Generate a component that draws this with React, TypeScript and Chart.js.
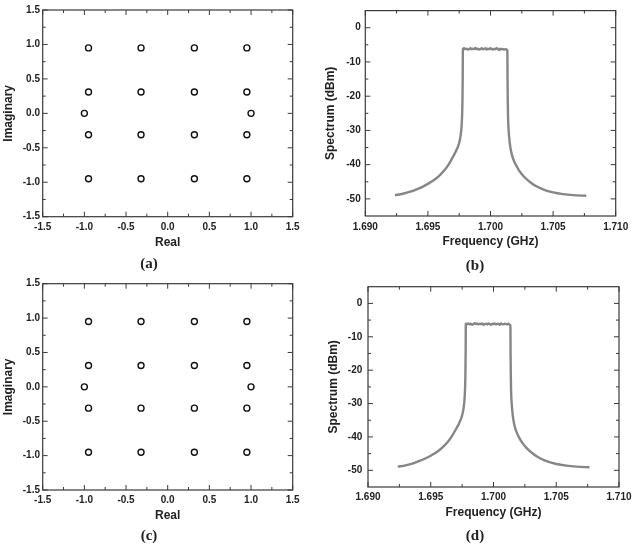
import React, { useEffect, useRef } from "react";
import { Chart, registerables } from "chart.js";
Chart.register(...registerables);

// ---------- Data ----------
const constReal = [-0.95, -0.32, 0.32, 0.95, -0.95, -0.32, 0.32, 0.95, -1.0, 1.0, -0.95, -0.32, 0.32, 0.95, -0.95, -0.32, 0.32, 0.95];
const constImag = [0.95, 0.95, 0.95, 0.95, 0.31, 0.31, 0.31, 0.31, 0.0, 0.0, -0.31, -0.31, -0.31, -0.31, -0.95, -0.95, -0.95, -0.95];

const specFreq = [
  1.69237, 1.693, 1.6936, 1.6941, 1.6946, 1.6951, 1.6956, 1.696, 1.6964, 1.6967, 1.697, 1.6973, 1.6975, 1.69762, 1.69769, 1.69773, 1.69776, 1.69778, 1.69779, 1.6978,
  1.6979, 1.698, 1.6981, 1.6982, 1.6983, 1.6984, 1.6985, 1.6986, 1.6987, 1.6988, 1.6989, 1.699, 1.6991, 1.6992, 1.6993, 1.6994, 1.6995, 1.6996, 1.6997, 1.6998, 1.6999,
  1.7, 1.7001, 1.7002, 1.7003, 1.7004, 1.7005, 1.7006, 1.7007, 1.7008, 1.7009, 1.701, 1.7011, 1.7012, 1.7013, 1.70134,
  1.70135, 1.70136, 1.70138, 1.7014, 1.70144, 1.7015, 1.70158, 1.7017, 1.70185, 1.702, 1.7023, 1.7027, 1.7032, 1.7037, 1.7044, 1.705, 1.7058, 1.7066, 1.70765,
];
const specB = [
  -48.9, -48.5, -47.9, -47.2, -46.4, -45.4, -44.2, -42.9, -41.3, -39.7, -37.7, -35.6, -33.6, -31.3, -28.8, -25.8, -21.5, -14.5, -7.5, -6.2,
  -6.0, -6.3, -6.1, -6.4, -6.2, -6.0, -6.3, -6.1, -6.2, -5.9, -6.3, -6.1, -6.4, -6.2, -6.0, -6.3, -6.2, -6.0, -6.4, -6.1, -6.3,
  -6.0, -6.2, -6.4, -6.1, -6.3, -6.0, -6.2, -6.5, -6.1, -6.3, -6.2, -6.4, -6.3, -6.4, -6.6,
  -7.5, -14.5, -21.5, -26.0, -29.5, -32.3, -34.8, -37.0, -38.7, -39.9, -41.8, -43.6, -45.2, -46.4, -47.5, -48.1, -48.6, -48.9, -49.1,
];
const specD = [
  -48.9, -48.5, -47.9, -47.2, -46.4, -45.4, -44.2, -42.9, -41.3, -39.7, -37.7, -35.6, -33.6, -31.3, -28.8, -25.8, -21.5, -14.5, -7.5, -6.1,
  -6.2, -6.0, -6.3, -6.1, -6.4, -6.2, -5.9, -6.2, -6.0, -6.3, -6.1, -6.2, -6.0, -6.4, -6.2, -6.1, -6.3, -6.0, -6.2, -6.4, -6.1,
  -6.2, -6.0, -6.3, -6.2, -6.1, -6.4, -6.0, -6.2, -6.3, -6.1, -6.2, -6.3, -6.1, -6.4, -6.5,
  -7.5, -14.5, -21.5, -26.0, -29.5, -32.3, -34.8, -37.0, -38.7, -39.9, -41.8, -43.6, -45.2, -46.4, -47.5, -48.1, -48.6, -48.9, -49.1,
];

const constTicks = { min: -1.5, max: 1.5, step: 0.5 };
const specXTicks = { min: 1.69, max: 1.71, step: 0.005 };
const specYTicks = { min: -55, max: 5, step: 10 };
const specYLabels = [-50, -40, -30, -20, -10, 0];

// ---------- Frame / inward ticks plugin ----------
const framePlugin = {
  id: "frame",
  afterDraw(chart: any) {
    const { ctx, chartArea: a, scales } = chart;
    const xs = scales.x;
    const ys = scales.y;
    ctx.save();
    ctx.strokeStyle = "#3a3a3a";
    ctx.lineWidth = 1.2;
    ctx.strokeRect(a.left, a.top, a.right - a.left, a.bottom - a.top);
    ctx.lineWidth = 1;
    const line = (x1: number, y1: number, x2: number, y2: number) => {
      ctx.beginPath();
      ctx.moveTo(x1, y1);
      ctx.lineTo(x2, y2);
      ctx.stroke();
    };
    const withMinors = (scale: any) => {
      const vals = scale.ticks.map((t: any) => t.value);
      const out: { v: number; major: boolean }[] = [];
      vals.forEach((v: number, i: number) => {
        out.push({ v, major: true });
        if (i < vals.length - 1) out.push({ v: (v + vals[i + 1]) / 2, major: false });
      });
      return out;
    };
    withMinors(xs).forEach(({ v, major }) => {
      const p = xs.getPixelForValue(v);
      const len = major ? 5 : 3;
      line(p, a.bottom, p, a.bottom - len);
      line(p, a.top, p, a.top + len);
    });
    withMinors(ys).forEach(({ v, major }) => {
      const p = ys.getPixelForValue(v);
      const len = major ? 5 : 3;
      line(a.left, p, a.left + len, p);
      line(a.right, p, a.right - len, p);
    });
    ctx.restore();
  },
};

const FONT = "'Liberation Sans', Arial, sans-serif";
const tickFont = { family: FONT, weight: "bold" as const, size: 10 };
const titleFont = { family: FONT, weight: "bold" as const, size: 12 };

type PanelCfg = {
  kind: "const" | "spec";
  values?: number[];
  pad: { top: number; right: number };
  yWidth: number;
  xHeight: number;
  yTitlePad: number;
  xTitlePad: number;
  yTickPad: number;
  xTickPad: number;
};

function makeConfig(p: PanelCfg): any {
  const isConst = p.kind === "const";
  const xr = isConst ? constTicks : specXTicks;
  const yr = isConst ? constTicks : specYTicks;
  const data = isConst
    ? constReal.map((x, i) => ({ x, y: constImag[i] }))
    : specFreq.map((x, i) => ({ x, y: (p.values as number[])[i] }));
  return {
    type: isConst ? "scatter" : "line",
    data: {
      datasets: [
        isConst
          ? {
              data,
              pointStyle: "circle",
              pointRadius: 3,
              pointBorderWidth: 1.4,
              pointBorderColor: "#111",
              pointBackgroundColor: "rgba(255,255,255,0)",
              showLine: false,
            }
          : {
              data,
              borderColor: "#868686",
              borderWidth: 2.4,
              pointRadius: 0,
              fill: false,
              cubicInterpolationMode: "monotone",
            },
      ],
    },
    options: {
      responsive: false,
      animation: false,
      events: [],
      layout: { padding: { top: p.pad.top, right: p.pad.right, left: 0, bottom: 0 } },
      plugins: { legend: { display: false }, tooltip: { enabled: false } },
      scales: {
        x: {
          type: "linear",
          min: xr.min,
          max: xr.max,
          grid: { display: false, drawTicks: false },
          border: { display: false },
          ticks: {
            stepSize: xr.step,
            font: tickFont,
            color: "#222",
            padding: p.xTickPad,
            maxRotation: 0,
            autoSkip: false,
            callback: (v: number) => (isConst ? v.toFixed(1) : v.toFixed(3)),
          },
          title: {
            display: true,
            text: isConst ? "Real" : "Frequency (GHz)",
            font: titleFont,
            color: "#222",
            padding: { top: 0, bottom: p.xTitlePad },
          },
          afterFit: (s: any) => {
            s.height = p.xHeight;
          },
        },
        y: {
          type: "linear",
          min: yr.min,
          max: yr.max,
          afterBuildTicks: (s: any) => {
            if (!isConst) s.ticks = specYLabels.map((v) => ({ value: v }));
          },
          grid: { display: false, drawTicks: false },
          border: { display: false },
          ticks: {
            stepSize: yr.step,
            font: tickFont,
            color: "#222",
            padding: p.yTickPad,
            autoSkip: false,
            callback: (v: number) => (isConst ? v.toFixed(1) : String(v)),
          },
          title: {
            display: true,
            text: isConst ? "Imaginary" : "Spectrum (dBm)",
            font: titleFont,
            color: "#222",
            padding: { top: p.yTitlePad, bottom: 0 },
          },
          afterFit: (s: any) => {
            s.width = p.yWidth;
          },
        },
      },
    },
    plugins: [framePlugin],
  };
}

function Panel({ cfg, left, top, caption, capX, capY }: { cfg: PanelCfg; left: number; top: number; caption: string; capX: number; capY: number }) {
  const ref = useRef<HTMLCanvasElement>(null);
  useEffect(() => {
    if (!ref.current) return;
    const chart = new Chart(ref.current, makeConfig(cfg));
    return () => chart.destroy();
  }, []);
  return (
    <>
      <canvas ref={ref} width={320} height={260} style={{ position: "absolute", left, top, width: 320, height: 260 }} />
      <div
        style={{
          position: "absolute",
          left: capX,
          top: capY,
          transform: "translate(-50%, -50%)",
          fontFamily: "'Liberation Serif', 'Times New Roman', serif",
          fontWeight: "bold",
          fontSize: 15,
          color: "#222",
          whiteSpace: "nowrap",
          lineHeight: 1,
        }}
      >
        {caption}
      </div>
    </>
  );
}

export default function App() {
  const pA: PanelCfg = { kind: "const", pad: { top: 10, right: 27.3 }, yWidth: 42.7, xHeight: 43.3, yTitlePad: 1.5, xTitlePad: 10.1, yTickPad: 2.7, xTickPad: 5 };
  const pB: PanelCfg = { kind: "spec", values: specB, pad: { top: 9.3, right: 22.3 }, yWidth: 47.3, xHeight: 44, yTitlePad: 5.1, xTitlePad: 10.8, yTickPad: 4.6, xTickPad: 5 };
  const pC: PanelCfg = { kind: "const", pad: { top: 8.3, right: 27.3 }, yWidth: 42.7, xHeight: 45, yTitlePad: 1.5, xTitlePad: 12.1, yTickPad: 2.7, xTickPad: 4.5 };
  const pD: PanelCfg = { kind: "spec", values: specD, pad: { top: 5, right: 19 }, yWidth: 50, xHeight: 48, yTitlePad: 8.8, xTitlePad: 14.8, yTickPad: 5.7, xTickPad: 4.5 };
  return (
    <div style={{ position: "absolute", left: 0, top: 0, width: 638, height: 549, background: "#fff", overflow: "hidden" }}>
      <Panel cfg={pA} left={0} top={0} caption="(a)" capX={149} capY={263} />
      <Panel cfg={pB} left={318} top={0} caption="(b)" capX={475} capY={265} />
      <Panel cfg={pC} left={0} top={275} caption="(c)" capX={149} capY={535} />
      <Panel cfg={pD} left={318} top={275} caption="(d)" capX={475} capY={535} />
    </div>
  );
}
